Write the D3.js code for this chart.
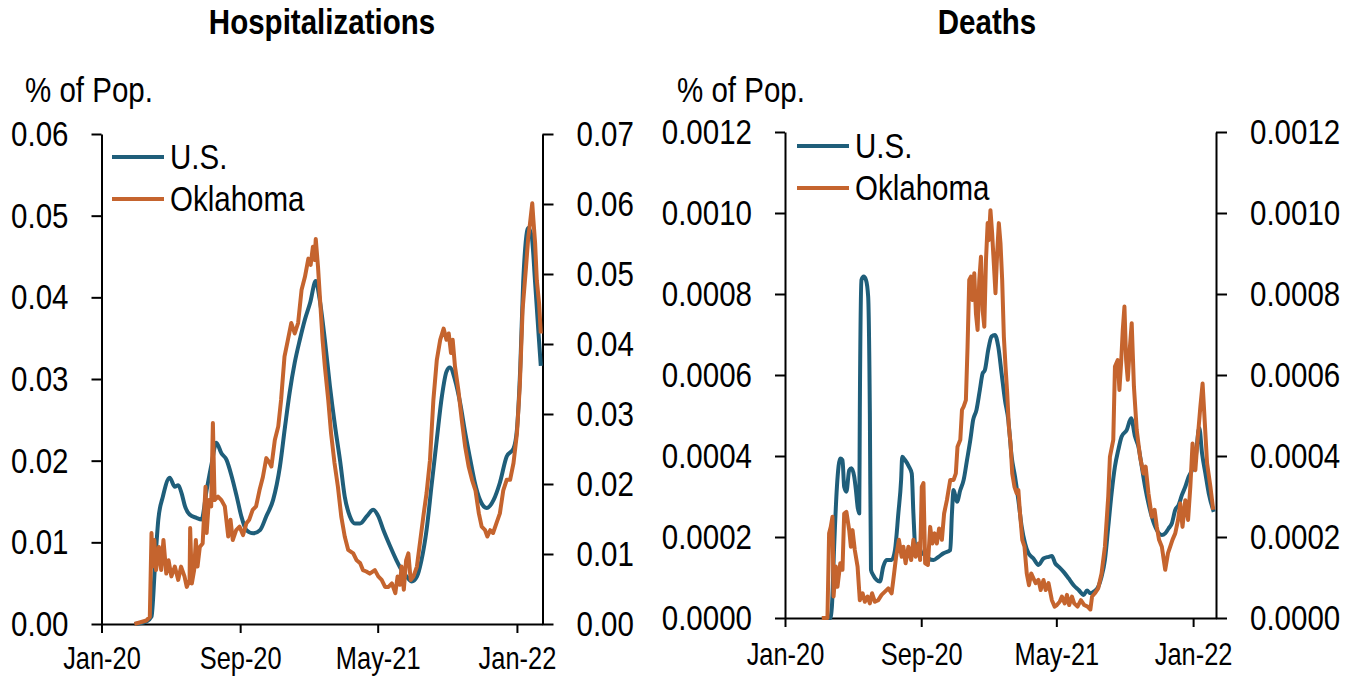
<!DOCTYPE html>
<html>
<head>
<meta charset="utf-8">
<script src="https://cdn.jsdelivr.net/npm/d3@7"></script>
<style>
  body { margin: 0; background: #fff; }
  svg text { font-family: "Liberation Sans", Arial, sans-serif; fill: #000; }
</style>
</head>
<body>
<svg id="chart" width="1349" height="679"></svg>
<script>
// tick labels / categories
var xTickDates = ["2020-01-01", "2020-09-01", "2021-05-01", "2022-01-01"];
var hospLeftTicks = [0, 0.01, 0.02, 0.03, 0.04, 0.05, 0.06];
var hospRightTicks = [0, 0.01, 0.02, 0.03, 0.04, 0.05, 0.06, 0.07];
var deathTicks = [0, 0.0002, 0.0004, 0.0006, 0.0008, 0.0010, 0.0012];
var seriesNames = ["U.S.", "Oklahoma"];

// Hospitalizations, U.S. (left axis)
var hospUSDates = ["2020-02-28","2020-03-20","2020-03-29","2020-04-04","2020-04-10","2020-04-18","2020-04-30","2020-05-09","2020-05-15","2020-05-21","2020-05-27","2020-06-04","2020-06-16","2020-06-25","2020-07-04","2020-07-13","2020-07-21","2020-07-30","2020-08-08","2020-08-17","2020-08-26","2020-09-03","2020-09-12","2020-09-24","2020-10-06","2020-10-17","2020-10-29","2020-11-10","2020-11-19","2020-11-27","2020-12-06","2020-12-15","2020-12-24","2021-01-02","2021-01-12","2021-01-19","2021-01-28","2021-02-06","2021-02-15","2021-02-24","2021-03-04","2021-03-13","2021-03-22","2021-03-31","2021-04-12","2021-04-23","2021-05-02","2021-05-11","2021-05-23","2021-06-03","2021-06-12","2021-06-21","2021-06-30","2021-07-09","2021-07-17","2021-07-26","2021-08-04","2021-08-13","2021-08-22","2021-08-30","2021-09-05","2021-09-14","2021-09-23","2021-10-02","2021-10-11","2021-10-19","2021-10-28","2021-11-09","2021-11-21","2021-12-02","2021-12-14","2021-12-26","2022-01-01","2022-01-07","2022-01-12","2022-01-21","2022-01-27","2022-02-02","2022-02-08","2022-02-12"];
var hospUS = [0,0.0003,0.0009,0.0070,0.0128,0.0156,0.0179,0.0168,0.0170,0.0160,0.0144,0.0134,0.0130,0.0128,0.0164,0.0197,0.0222,0.0209,0.0201,0.0181,0.0156,0.0132,0.0115,0.0111,0.0115,0.0132,0.0152,0.0193,0.0242,0.0283,0.0320,0.0348,0.0373,0.0393,0.0420,0.0397,0.0348,0.0291,0.0242,0.0199,0.0156,0.0132,0.0123,0.0123,0.0132,0.0140,0.0132,0.0115,0.0095,0.0078,0.0066,0.0058,0.0052,0.0058,0.0078,0.0115,0.0171,0.0226,0.0279,0.0309,0.0314,0.0299,0.0271,0.0234,0.0201,0.0173,0.0152,0.0142,0.0152,0.0173,0.0205,0.0215,0.0238,0.0316,0.0418,0.0485,0.0475,0.0418,0.0356,0.0316];

// Hospitalizations, Oklahoma (right axis)
var hospOKDates = ["2020-02-28","2020-03-20","2020-03-26","2020-03-29","2020-03-31","2020-04-03","2020-04-06","2020-04-11","2020-04-15","2020-04-19","2020-04-24","2020-04-28","2020-05-03","2020-05-09","2020-05-15","2020-05-20","2020-05-26","2020-05-30","2020-06-04","2020-06-05","2020-06-08","2020-06-12","2020-06-15","2020-06-18","2020-06-22","2020-06-27","2020-07-02","2020-07-04","2020-07-08","2020-07-12","2020-07-15","2020-07-18","2020-07-24","2020-07-30","2020-08-05","2020-08-11","2020-08-15","2020-08-19","2020-08-25","2020-08-31","2020-09-06","2020-09-12","2020-09-17","2020-09-23","2020-09-29","2020-10-05","2020-10-11","2020-10-17","2020-10-23","2020-10-26","2020-11-01","2020-11-07","2020-11-12","2020-11-18","2020-11-24","2020-11-30","2020-12-06","2020-12-12","2020-12-18","2020-12-24","2020-12-30","2021-01-03","2021-01-07","2021-01-10","2021-01-12","2021-01-16","2021-01-20","2021-01-24","2021-01-28","2021-02-03","2021-02-08","2021-02-14","2021-02-20","2021-02-26","2021-03-04","2021-03-10","2021-03-19","2021-03-25","2021-03-31","2021-04-05","2021-04-11","2021-04-17","2021-04-26","2021-05-02","2021-05-08","2021-05-14","2021-05-20","2021-05-26","2021-06-01","2021-06-05","2021-06-09","2021-06-12","2021-06-16","2021-06-20","2021-06-24","2021-06-28","2021-07-03","2021-07-09","2021-07-15","2021-07-21","2021-07-26","2021-08-01","2021-08-07","2021-08-13","2021-08-19","2021-08-25","2021-08-30","2021-09-03","2021-09-07","2021-09-10","2021-09-14","2021-09-20","2021-09-26","2021-10-02","2021-10-08","2021-10-14","2021-10-20","2021-10-26","2021-10-31","2021-11-06","2021-11-10","2021-11-15","2021-11-20","2021-11-26","2021-12-02","2021-12-08","2021-12-14","2021-12-20","2021-12-26","2022-01-01","2022-01-06","2022-01-11","2022-01-17","2022-01-21","2022-01-24","2022-01-28","2022-01-30","2022-02-02","2022-02-05","2022-02-09","2022-02-12"];
var hospOK = [0,0.0005,0.0010,0.0130,0.0082,0.0120,0.0077,0.0110,0.0077,0.0120,0.0072,0.0091,0.0068,0.0082,0.0063,0.0082,0.0068,0.0053,0.0063,0.0137,0.0058,0.0077,0.0120,0.0082,0.0110,0.0115,0.0196,0.0130,0.0177,0.0168,0.0287,0.0177,0.0182,0.0177,0.0168,0.0125,0.0149,0.0120,0.0134,0.0139,0.0127,0.0144,0.0149,0.0163,0.0168,0.0191,0.0210,0.0237,0.0230,0.0225,0.0263,0.0282,0.0320,0.0382,0.0406,0.0430,0.0415,0.0430,0.0477,0.0496,0.0522,0.0513,0.0539,0.0520,0.0550,0.0510,0.0458,0.0406,0.0368,0.0320,0.0272,0.0230,0.0196,0.0153,0.0125,0.0106,0.0101,0.0091,0.0087,0.0077,0.0075,0.0072,0.0077,0.0068,0.0063,0.0053,0.0053,0.0058,0.0044,0.0068,0.0056,0.0082,0.0049,0.0091,0.0101,0.0063,0.0068,0.0082,0.0120,0.0158,0.0187,0.0234,0.0320,0.0377,0.0406,0.0422,0.0406,0.0415,0.0387,0.0406,0.0368,0.0334,0.0291,0.0253,0.0225,0.0206,0.0191,0.0158,0.0139,0.0134,0.0125,0.0134,0.0130,0.0144,0.0158,0.0191,0.0206,0.0206,0.0230,0.0272,0.0339,0.0449,0.0510,0.0553,0.0572,0.0601,0.0577,0.0544,0.0491,0.0458,0.0415];

// Deaths, U.S.
var deathUSDates = ["2020-03-07","2020-03-22","2020-03-25","2020-03-29","2020-04-03","2020-04-09","2020-04-13","2020-04-16","2020-04-20","2020-04-25","2020-04-29","2020-05-04","2020-05-07","2020-05-10","2020-05-13","2020-05-14","2020-05-17","2020-05-21","2020-05-25","2020-05-29","2020-06-01","2020-06-03","2020-06-07","2020-06-13","2020-06-19","2020-06-25","2020-07-01","2020-07-10","2020-07-16","2020-07-22","2020-07-27","2020-07-29","2020-08-03","2020-08-10","2020-08-15","2020-08-18","2020-08-22","2020-08-27","2020-09-02","2020-09-08","2020-09-14","2020-09-23","2020-10-02","2020-10-11","2020-10-23","2020-10-26","2020-10-29","2020-11-04","2020-11-10","2020-11-16","2020-11-22","2020-11-28","2020-12-03","2020-12-09","2020-12-15","2020-12-20","2020-12-24","2020-12-30","2021-01-05","2021-01-11","2021-01-17","2021-01-23","2021-01-29","2021-02-04","2021-02-10","2021-02-16","2021-02-22","2021-02-28","2021-03-06","2021-03-12","2021-03-21","2021-03-30","2021-04-08","2021-04-17","2021-04-23","2021-04-29","2021-05-05","2021-05-14","2021-05-23","2021-06-01","2021-06-10","2021-06-19","2021-06-25","2021-07-01","2021-07-07","2021-07-15","2021-07-21","2021-07-27","2021-08-02","2021-08-08","2021-08-14","2021-08-20","2021-08-26","2021-09-04","2021-09-12","2021-09-19","2021-09-25","2021-10-01","2021-10-07","2021-10-13","2021-10-19","2021-10-28","2021-11-06","2021-11-12","2021-11-18","2021-11-24","2021-11-30","2021-12-06","2021-12-12","2021-12-18","2021-12-24","2021-12-30","2022-01-05","2022-01-12","2022-01-17","2022-01-23","2022-01-29","2022-02-07"];
var deathUS = [0,0,0.000028,0.000176,0.000324,0.000394,0.000390,0.000324,0.000312,0.000365,0.000370,0.000349,0.000316,0.000275,0.000258,0.000505,0.000835,0.000843,0.000835,0.000793,0.000505,0.000119,0.000106,0.000094,0.000090,0.000127,0.000143,0.000143,0.000168,0.000258,0.000341,0.000398,0.000390,0.000374,0.000357,0.000258,0.000168,0.000176,0.000160,0.000156,0.000147,0.000143,0.000151,0.000160,0.000168,0.000258,0.000316,0.000287,0.000316,0.000341,0.000390,0.000440,0.000489,0.000514,0.000563,0.000604,0.000612,0.000662,0.000695,0.000699,0.000670,0.000604,0.000538,0.000489,0.000398,0.000349,0.000291,0.000225,0.000184,0.000160,0.000147,0.000131,0.000147,0.000151,0.000153,0.000135,0.000127,0.000114,0.000098,0.000081,0.000069,0.000057,0.000068,0.000061,0.000065,0.000077,0.000102,0.000143,0.000225,0.000308,0.000374,0.000415,0.000448,0.000464,0.000493,0.000448,0.000423,0.000374,0.000324,0.000283,0.000250,0.000217,0.000205,0.000209,0.000221,0.000234,0.000267,0.000279,0.000304,0.000324,0.000349,0.000365,0.000390,0.000470,0.000407,0.000357,0.000308,0.000262];

// Deaths, Oklahoma
var deathOKDates = ["2020-03-07","2020-03-17","2020-03-20","2020-03-23","2020-03-26","2020-03-28","2020-04-01","2020-04-04","2020-04-09","2020-04-13","2020-04-16","2020-04-20","2020-04-25","2020-04-28","2020-05-01","2020-05-05","2020-05-10","2020-05-14","2020-05-19","2020-05-23","2020-05-28","2020-06-01","2020-06-05","2020-06-10","2020-06-16","2020-06-22","2020-06-28","2020-07-04","2020-07-10","2020-07-13","2020-07-18","2020-07-23","2020-07-28","2020-07-31","2020-08-04","2020-08-09","2020-08-14","2020-08-18","2020-08-22","2020-08-27","2020-08-30","2020-09-02","2020-09-05","2020-09-08","2020-09-13","2020-09-17","2020-09-21","2020-09-25","2020-09-29","2020-10-03","2020-10-08","2020-10-12","2020-10-17","2020-10-23","2020-10-29","2020-11-02","2020-11-05","2020-11-10","2020-11-13","2020-11-16","2020-11-20","2020-11-23","2020-11-26","2020-11-29","2020-12-02","2020-12-05","2020-12-08","2020-12-11","2020-12-14","2020-12-17","2020-12-20","2020-12-23","2020-12-26","2020-12-29","2020-12-31","2021-01-03","2021-01-06","2021-01-09","2021-01-12","2021-01-15","2021-01-18","2021-01-21","2021-01-24","2021-01-27","2021-01-30","2021-02-02","2021-02-05","2021-02-08","2021-02-11","2021-02-15","2021-02-19","2021-02-22","2021-02-25","2021-03-01","2021-03-05","2021-03-09","2021-03-13","2021-03-17","2021-03-21","2021-03-25","2021-03-30","2021-04-03","2021-04-08","2021-04-12","2021-04-17","2021-04-23","2021-04-28","2021-05-02","2021-05-07","2021-05-11","2021-05-16","2021-05-20","2021-05-24","2021-05-29","2021-06-02","2021-06-08","2021-06-14","2021-06-20","2021-06-26","2021-07-01","2021-07-04","2021-07-09","2021-07-15","2021-07-21","2021-07-27","2021-08-02","2021-08-05","2021-08-11","2021-08-14","2021-08-19","2021-08-22","2021-08-25","2021-08-28","2021-08-31","2021-09-03","2021-09-06","2021-09-09","2021-09-13","2021-09-17","2021-09-22","2021-09-28","2021-10-04","2021-10-08","2021-10-13","2021-10-19","2021-10-24","2021-10-28","2021-11-01","2021-11-06","2021-11-12","2021-11-17","2021-11-21","2021-11-25","2021-11-30","2021-12-05","2021-12-09","2021-12-13","2021-12-18","2021-12-23","2021-12-27","2021-12-31","2022-01-05","2022-01-09","2022-01-14","2022-01-18","2022-01-21","2022-01-26","2022-02-01","2022-02-06"];
var deathOK = [0,0,0.000209,0.000225,0.000250,0.000053,0.000127,0.000077,0.000135,0.000119,0.000258,0.000262,0.000217,0.000176,0.000217,0.000168,0.000127,0.000044,0.000061,0.000040,0.000053,0.000036,0.000061,0.000040,0.000044,0.000057,0.000065,0.000073,0.000061,0.000094,0.000151,0.000193,0.000151,0.000176,0.000135,0.000176,0.000143,0.000193,0.000151,0.000184,0.000143,0.000324,0.000333,0.000135,0.000131,0.000225,0.000184,0.000209,0.000184,0.000221,0.000193,0.000258,0.000291,0.000341,0.000341,0.000357,0.000423,0.000440,0.000514,0.000522,0.000538,0.000670,0.000835,0.000843,0.000785,0.000851,0.000752,0.000711,0.000835,0.000892,0.000760,0.000719,0.000884,0.000975,0.000933,0.001007,0.000950,0.000876,0.000802,0.000900,0.000975,0.000925,0.000835,0.000695,0.000621,0.000555,0.000472,0.000431,0.000357,0.000324,0.000308,0.000316,0.000258,0.000193,0.000176,0.000110,0.000081,0.000110,0.000098,0.000086,0.000094,0.000069,0.000094,0.000069,0.000086,0.000044,0.000028,0.000032,0.000040,0.000053,0.000036,0.000057,0.000032,0.000053,0.000036,0.000028,0.000044,0.000032,0.000028,0.000021,0.000053,0.000061,0.000073,0.000110,0.000176,0.000300,0.000398,0.000440,0.000621,0.000637,0.000563,0.000629,0.000711,0.000769,0.000637,0.000588,0.000654,0.000728,0.000571,0.000464,0.000398,0.000357,0.000374,0.000308,0.000250,0.000267,0.000225,0.000193,0.000176,0.000119,0.000160,0.000176,0.000193,0.000209,0.000242,0.000283,0.000225,0.000291,0.000242,0.000324,0.000431,0.000365,0.000440,0.000522,0.000579,0.000505,0.000382,0.000324,0.000267];

var usColor = "#1f5e7a";
var okColor = "#c5642e";

var parse = d3.timeParse("%Y-%m-%d");
var svg = d3.select("#chart");

function zip(dates, vals) {
  return dates.map(function(d, i) { return { date: parse(d), value: vals[i] }; });
}

// squeeze text horizontally (the original uses a narrow face)
function narrow(sel) {
  sel.each(function() {
    var t = d3.select(this);
    var x = +t.attr("x") || 0, y = +t.attr("y") || 0;
    t.attr("x", 0).attr("y", 0)
      .attr("transform", "translate(" + x + "," + y + ") scale(0.82,1)");
  });
}

function drawPanel(p) {
  var g = svg.append("g");

  var x = d3.scaleTime()
    .domain([parse("2020-01-01"), parse(p.xEnd)])
    .range([p.left, p.right]);
  var yL = d3.scaleLinear().domain([0, p.leftMax]).range([p.bottom, p.top]);
  var yR = d3.scaleLinear().domain([0, p.rightMax]).range([p.bottom, p.top]);

  // title and unit label
  g.append("text")
    .attr("x", p.titleX).attr("y", 34)
    .attr("text-anchor", "middle")
    .style("font-size", "36px").style("font-weight", "bold")
    .text(p.title);
  g.append("text")
    .attr("x", p.unitX).attr("y", 102)
    .style("font-size", "36px")
    .text("% of Pop.");

  // axes
  var xAxis = g.append("g")
    .attr("transform", "translate(0," + p.bottom + ")")
    .call(d3.axisBottom(x)
      .tickValues(xTickDates.map(parse))
      .tickFormat(d3.timeFormat("%b-%y"))
      .tickSize(9).tickSizeOuter(0));
  xAxis.selectAll("text")
    .attr("y", p.xLabelDy).attr("dy", 0)
    .style("font-size", "31px");

  var leftAxis = g.append("g")
    .attr("transform", "translate(" + p.left + ",0)")
    .call(d3.axisLeft(yL).tickValues(p.leftTicks).tickFormat(d3.format(p.fmt))
      .tickSize(10).tickSizeOuter(0).tickPadding(23));
  var rightAxis = g.append("g")
    .attr("transform", "translate(" + p.right + ",0)")
    .call(d3.axisRight(yR).tickValues(p.rightTicks).tickFormat(d3.format(p.fmt))
      .tickSize(11).tickSizeOuter(0).tickPadding(23));

  [xAxis, leftAxis, rightAxis].forEach(function(a) {
    a.selectAll("path, line").attr("stroke", "#000").attr("stroke-width", 2);
  });
  leftAxis.selectAll("text").style("font-size", "36px");
  rightAxis.selectAll("text").style("font-size", "36px");

  // lines
  var lineL = d3.line().x(function(d) { return x(d.date); }).y(function(d) { return yL(d.value); });
  var lineR = d3.line().x(function(d) { return x(d.date); }).y(function(d) { return yR(d.value); });

  g.append("path")
    .datum(zip(p.usDates, p.us))
    .attr("fill", "none").attr("stroke", usColor).attr("stroke-width", 4)
    .attr("stroke-linejoin", "round")
    .attr("d", lineL.curve(d3.curveMonotoneX));
  g.append("path")
    .datum(zip(p.okDates, p.ok))
    .attr("fill", "none").attr("stroke", okColor).attr("stroke-width", 4)
    .attr("stroke-linejoin", "round")
    .attr("d", lineR);

  // legend
  var colors = [usColor, okColor];
  seriesNames.forEach(function(name, i) {
    var ly = p.legendY[i];
    g.append("line")
      .attr("x1", p.legendX).attr("x2", p.legendX + 52)
      .attr("y1", ly).attr("y2", ly)
      .attr("stroke", colors[i]).attr("stroke-width", 4);
    g.append("text")
      .attr("x", p.legendX + 58).attr("y", ly + 12)
      .style("font-size", "36px")
      .text(name);
  });

  narrow(g.selectAll("text"));
}

drawPanel({
  title: "Hospitalizations", titleX: 322, unitX: 25,
  left: 101.5, right: 542.5, top: 134, bottom: 624, xEnd: "2022-02-15",
  leftMax: 0.06, rightMax: 0.07, leftTicks: hospLeftTicks, rightTicks: hospRightTicks,
  fmt: ".2f", xLabelDy: 45,
  usDates: hospUSDates, us: hospUS, okDates: hospOKDates, ok: hospOK,
  legendX: 112, legendY: [157, 199]
});

drawPanel({
  title: "Deaths", titleX: 987, unitX: 677,
  left: 785, right: 1216, top: 132, bottom: 618, xEnd: "2022-02-11",
  leftMax: 0.0012, rightMax: 0.0012, leftTicks: deathTicks, rightTicks: deathTicks,
  fmt: ".4f", xLabelDy: 47,
  usDates: deathUSDates, us: deathUS, okDates: deathOKDates, ok: deathOK,
  legendX: 797, legendY: [146, 188]
});
</script>
</body>
</html>
